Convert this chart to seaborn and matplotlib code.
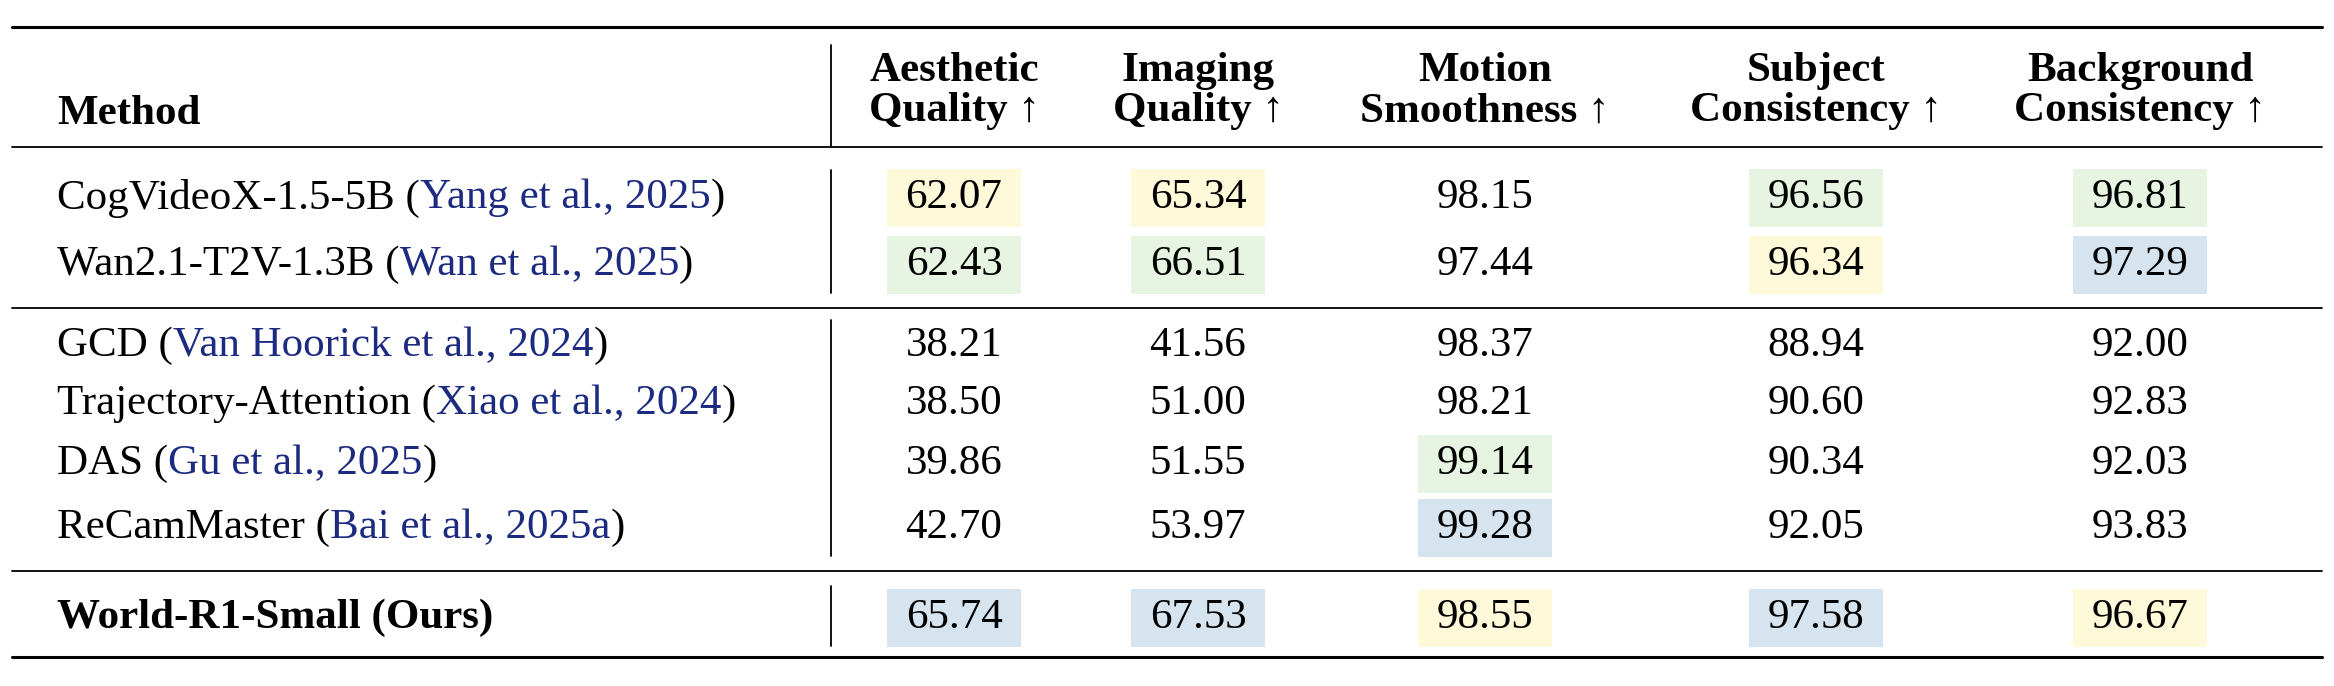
import matplotlib
matplotlib.use("Agg")
import matplotlib.pyplot as plt
import seaborn as sns
import pandas as pd

sns.set_theme(style="white")
plt.rcParams['font.family'] = ['Liberation Serif', 'DejaVu Serif']
plt.rcParams['text.color'] = 'black'

columns = ["Aesthetic\nQuality ↑", "Imaging\nQuality ↑", "Motion\nSmoothness ↑",
           "Subject\nConsistency ↑", "Background\nConsistency ↑"]
methods = ["CogVideoX-1.5-5B", "Wan2.1-T2V-1.3B", "GCD", "Trajectory-Attention",
           "DAS", "ReCamMaster", "World-R1-Small (Ours)"]
citations = ["Yang et al., ", "Wan et al., ", "Van Hoorick et al., ", "Xiao et al., ",
             "Gu et al., ", "Bai et al., ", None]
years = ["2025", "2025", "2024", "2024", "2025", "2025a", None]
aesthetic = [62.07, 62.43, 38.21, 38.50, 39.86, 42.70, 65.74]
imaging = [65.34, 66.51, 41.56, 51.00, 51.55, 53.97, 67.53]
motion = [98.15, 97.44, 98.37, 98.21, 99.14, 99.28, 98.55]
subject = [96.56, 96.34, 88.94, 90.60, 90.34, 92.05, 97.58]
background = [96.81, 97.29, 92.00, 92.83, 92.03, 93.83, 96.67]
# rank highlights: 1 best (blue), 2 (green), 3 (yellow), 0 none
ranks = [
    [3, 3, 0, 2, 2],
    [2, 2, 0, 3, 1],
    [0, 0, 0, 0, 0],
    [0, 0, 0, 0, 0],
    [0, 0, 2, 0, 0],
    [0, 0, 1, 0, 0],
    [1, 1, 3, 1, 3],
]
df = pd.DataFrame({"Aesthetic": aesthetic, "Imaging": imaging, "Motion": motion,
                   "Subject": subject, "Background": background})

rank_colors = {1: "#d5e4ef", 2: "#e6f4e1", 3: "#fef9d8"}
cite_color = "#1c2a80"

W, H = 2334, 686
fig = plt.figure(figsize=(W / 100, H / 100), dpi=100)
ax = fig.add_axes([0, 0, 1, 1])
ax.set_xlim(0, W)
ax.set_ylim(H, 0)
ax.axis("off")

fs = 31
col_x = [954, 1198, 1485, 1816, 2140]
row_y = [198, 265, 346, 404, 464, 528, 618]
left_x = 57

# rules
ax.plot([12, 2322], [27, 27], color="black", lw=2.2)
ax.plot([12, 2322], [657, 657], color="black", lw=2.2)
for y in [147, 308, 571]:
    ax.plot([12, 2322], [y, y], color="black", lw=1.3)
for y0, y1 in [(45, 146), (170, 293), (320, 556), (586, 646)]:
    ax.plot([831, 831], [y0, y1], color="black", lw=1.3)

# header
ax.text(left_x, 114, "Method", fontsize=fs, fontweight="bold", va="center", ha="left")
for cx, c in zip(col_x, columns):
    ax.text(cx, 91, c, fontsize=fs, fontweight="bold", ha="center", va="center",
            linespacing=1.1)

# rows
for i, m in enumerate(methods):
    y = row_y[i]
    bold = citations[i] is None
    t = ax.text(left_x, y, m + ("" if bold else " ("), fontsize=fs, va="center",
                ha="left", fontweight="bold" if bold else "normal")
    if not bold:
        t2 = ax.annotate(citations[i] + years[i], xy=(1, 0.5), xycoords=t,
                         va="center", ha="left", fontsize=fs, color=cite_color)
        ax.annotate(")", xy=(1, 0.5), xycoords=t2, va="center", ha="left", fontsize=fs)
    for j, col in enumerate(df.columns):
        cx = col_x[j]
        r = ranks[i][j]
        if r:
            ax.add_patch(plt.Rectangle((cx - 67, y - 29), 134, 58,
                                       facecolor=rank_colors[r], edgecolor="none"))
        ax.text(cx, y, f"{df[col][i]:.2f}", fontsize=fs, ha="center", va="center")

fig.savefig("out.png", dpi=100)
